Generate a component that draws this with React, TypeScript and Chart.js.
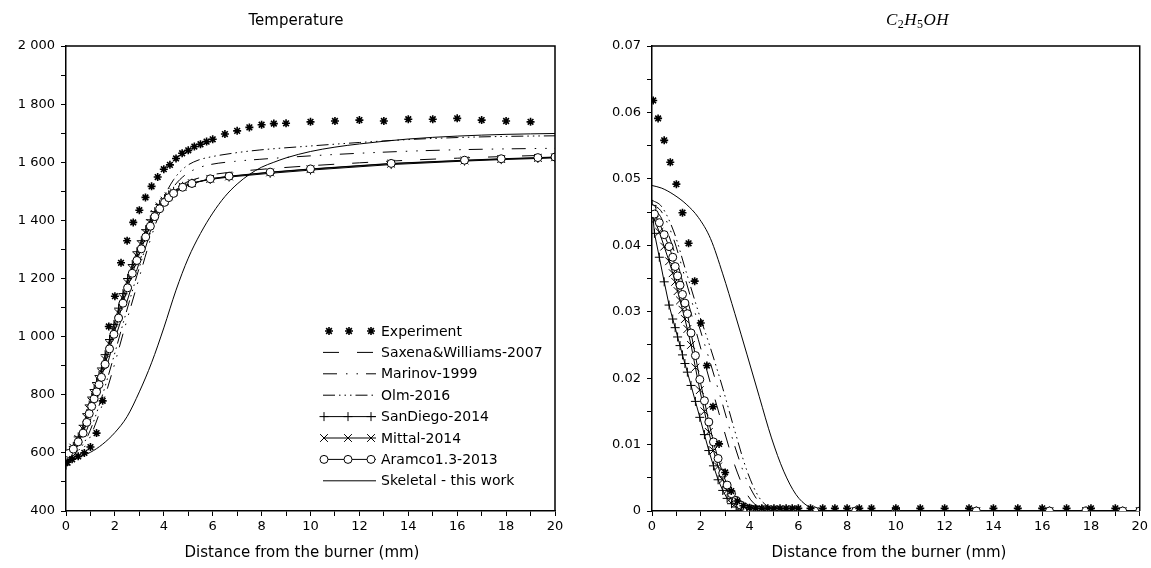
import React, { useEffect, useRef } from 'react';
import { Chart, registerables } from 'chart.js';
Chart.register(...registerables);

const FONT = "'DejaVu Sans', 'Liberation Sans', sans-serif";

// ---------- labels ----------
const seriesNames = [
  'Experiment',
  'Saxena&Williams-2007',
  'Marinov-1999',
  'Olm-2016',
  'SanDiego-2014',
  'Mittal-2014',
  'Aramco1.3-2013',
  'Skeletal - this work',
];
const distTickLabels = ['0', '2', '4', '6', '8', '10', '12', '14', '16', '18', '20'];
const tempTickLabels = ['400', '600', '800', '1 000', '1 200', '1 400', '1 600', '1 800', '2 000'];
const concTickLabels = ['0', '0.01', '0.02', '0.03', '0.04', '0.05', '0.06', '0.07'];

// ---------- experiment ----------
const expX = [0.05, 0.25, 0.5, 0.75, 1.0, 1.25, 1.5, 1.75, 2.0, 2.25, 2.5, 2.75, 3.0, 3.25, 3.5, 3.75, 4.0, 4.25, 4.5, 4.75, 5.0, 5.25, 5.5, 5.75, 6.0, 6.5, 7, 7.5, 8, 8.5, 9, 10, 11, 12, 13, 14, 15, 16, 17, 18, 19];
const expT = [568, 578, 588, 600, 620, 668, 779, 1035, 1139, 1254, 1330, 1393, 1435, 1479, 1517, 1549, 1576, 1591, 1613, 1631, 1641, 1654, 1662, 1671, 1679, 1697, 1708, 1720, 1729, 1733, 1734, 1739, 1742, 1745, 1742, 1748, 1748, 1751, 1745, 1742, 1739];
const expC = [0.0618, 0.0591, 0.0558, 0.0525, 0.0492, 0.0449, 0.0403, 0.0346, 0.0283, 0.0219, 0.0157, 0.0101, 0.0058, 0.0030, 0.0015, 0.0008, 0.0005, 0.0004, 0.0004, 0.0004, 0.0004, 0.0004, 0.0004, 0.0004, 0.0004, 0.0004, 0.0004, 0.0004, 0.0004, 0.0004, 0.0004, 0.0004, 0.0004, 0.0004, 0.0004, 0.0004, 0.0004, 0.0004, 0.0004, 0.0004, 0.0004];

// ---------- detailed mechanisms with markers (shared grid) ----------
const gridX = [0, 0.1, 0.3, 0.5, 0.7, 0.85, 0.95, 1.05, 1.15, 1.25, 1.35, 1.45, 1.6, 1.78, 1.96, 2.15, 2.33, 2.52, 2.71, 2.9, 3.08, 3.26, 3.45, 3.63, 3.83, 4.03, 4.2, 4.4, 4.77, 5.15, 5.9, 6.67, 8.35, 10.0, 13.3, 16.3, 17.8, 19.3, 20];
const aramcoT = [588, 598, 613, 638, 668, 705, 735, 760, 786, 810, 835, 860, 905, 958, 1008, 1064, 1115, 1168, 1218, 1262, 1302, 1343, 1380, 1413, 1440, 1462, 1478, 1493, 1514, 1527, 1543, 1552, 1566, 1577, 1596, 1607, 1612, 1616, 1618];
const sanDiegoT = [558, 585, 622, 655, 695, 735, 765, 792, 818, 842, 866, 892, 938, 990, 1042, 1098, 1148, 1200, 1248, 1292, 1330, 1368, 1402, 1430, 1455, 1474, 1488, 1500, 1517, 1528, 1541, 1549, 1562, 1573, 1592, 1604, 1609, 1613, 1615];
const mittalT = [570, 592, 618, 648, 682, 720, 750, 776, 802, 826, 850, 876, 921, 974, 1025, 1081, 1132, 1184, 1233, 1277, 1316, 1356, 1391, 1422, 1448, 1468, 1483, 1497, 1516, 1528, 1543, 1551, 1565, 1576, 1595, 1606, 1611, 1615, 1617];
const aramcoC = [0.0455, 0.0447, 0.0434, 0.0416, 0.0398, 0.0382, 0.0368, 0.0354, 0.0340, 0.0326, 0.0313, 0.0297, 0.0268, 0.0234, 0.0198, 0.0166, 0.0134, 0.0104, 0.0079, 0.0057, 0.0039, 0.0026, 0.0016, 0.0009, 0.0005, 0.0003, 0.0002, 0.0001, 0, 0, 0, 0, 0, 0, 0, 0, 0, 0, 0];
const sanDiegoC = [0.0460, 0.0418, 0.0382, 0.0345, 0.0310, 0.0289, 0.0276, 0.0262, 0.0249, 0.0235, 0.0222, 0.0209, 0.0189, 0.0165, 0.0141, 0.0115, 0.0091, 0.0068, 0.0047, 0.0031, 0.0019, 0.0011, 0.0006, 0.0003, 0.0001, 0, 0, 0, 0, 0, 0, 0, 0, 0, 0, 0, 0, 0, 0];
const mittalC = [0.0450, 0.0438, 0.0420, 0.0398, 0.0376, 0.0358, 0.0345, 0.0331, 0.0317, 0.0303, 0.0289, 0.0274, 0.0250, 0.0216, 0.0182, 0.0150, 0.0119, 0.0091, 0.0067, 0.0047, 0.0031, 0.0020, 0.0012, 0.0006, 0.0003, 0.0001, 0, 0, 0, 0, 0, 0, 0, 0, 0, 0, 0, 0, 0];

// ---------- line-only mechanisms ----------
const lineXT = [0, 0.4, 0.9, 1.4, 1.9, 2.4, 2.9, 3.4, 3.9, 4.4, 4.9, 5.4, 5.9, 6.9, 7.9, 10, 12, 14, 16, 18, 20];
const saxenaT = [575, 600, 690, 820, 965, 1095, 1230, 1352, 1440, 1500, 1530, 1545, 1556, 1567, 1575, 1588, 1598, 1607, 1614, 1620, 1625];
const marinovT = [575, 590, 640, 745, 880, 1030, 1175, 1320, 1440, 1515, 1558, 1580, 1592, 1603, 1610, 1622, 1631, 1638, 1643, 1646, 1648];
const olmT = [578, 598, 660, 775, 915, 1065, 1210, 1345, 1460, 1540, 1585, 1607, 1618, 1632, 1642, 1656, 1668, 1678, 1685, 1689, 1691];

const lineXC = [0, 0.4, 0.9, 1.4, 1.9, 2.4, 2.9, 3.4, 3.9, 4.4, 4.9, 5.4, 5.9, 10, 20];
const saxenaC = [0.0458, 0.0440, 0.0392, 0.0325, 0.0258, 0.0192, 0.0128, 0.0068, 0.0025, 0.0005, 0.0001, 0, 0, 0, 0];
const marinovC = [0.0462, 0.0450, 0.0408, 0.0345, 0.0282, 0.0222, 0.0160, 0.0097, 0.0045, 0.0013, 0.0002, 0, 0, 0, 0];
const olmC = [0.0468, 0.0458, 0.0420, 0.0360, 0.0300, 0.0245, 0.0185, 0.0120, 0.0060, 0.0020, 0.0004, 0.0001, 0, 0, 0];

const skelXT = [0, 0.5, 1, 1.5, 2, 2.5, 3, 3.5, 4, 4.5, 5, 5.5, 6, 6.5, 7, 7.5, 8, 8.5, 9, 10, 11, 12, 14, 16, 18, 20];
const skeletalT = [572, 585, 602, 630, 670, 725, 810, 910, 1030, 1160, 1270, 1355, 1425, 1482, 1525, 1558, 1583, 1600, 1615, 1637, 1652, 1663, 1680, 1690, 1696, 1699];
const skelXC = [0, 0.4, 0.9, 1.4, 1.9, 2.4, 2.9, 3.4, 3.9, 4.4, 4.9, 5.4, 5.9, 6.4, 6.9, 8, 10, 20];
const skeletalC = [0.0490, 0.0486, 0.0476, 0.0462, 0.0442, 0.0410, 0.0357, 0.0297, 0.0235, 0.0172, 0.0110, 0.0060, 0.0025, 0.0007, 0.0001, 0, 0, 0];

// ---------- styles ----------
type Kind = 'star' | 'cross' | 'crossRot' | 'circle' | 'none';
const STYLE: Record<string, { dash: number[]; marker: Kind; r: number; line: boolean; order: number; lw: number; mlw: number }> = {
  exp: { dash: [], marker: 'star', r: 4, line: false, order: 0, lw: 1, mlw: 1.6 },
  sax: { dash: [16, 18], marker: 'none', r: 0, line: true, order: 7, lw: 1, mlw: 1 },
  mar: { dash: [14, 9, 1.5, 9, 1.5, 8], marker: 'none', r: 0, line: true, order: 6, lw: 1, mlw: 1 },
  olm: { dash: [12, 4, 1.5, 4, 1.5, 4, 1.5, 4], marker: 'none', r: 0, line: true, order: 5, lw: 1, mlw: 1 },
  sd: { dash: [], marker: 'cross', r: 4.5, line: true, order: 3, lw: 1, mlw: 1 },
  mit: { dash: [], marker: 'crossRot', r: 5.5, line: true, order: 2, lw: 1, mlw: 1 },
  ara: { dash: [], marker: 'circle', r: 4, line: true, order: 1, lw: 1, mlw: 1 },
  skel: { dash: [], marker: 'none', r: 0, line: true, order: 4, lw: 1, mlw: 1 },
};
const KEYS = ['exp', 'sax', 'mar', 'olm', 'sd', 'mit', 'ara', 'skel'];

const pts = (xs: number[], ys: number[]) => xs.map((x, i) => ({ x, y: ys[i] }));

function makeDataset(key: string, label: string, data: { x: number; y: number }[]) {
  const s = STYLE[key];
  const smooth = key === 'sax' || key === 'mar' || key === 'olm' || key === 'skel';
  return {
    label,
    data,
    showLine: s.line,
    borderColor: '#000',
    borderWidth: s.lw,
    borderDash: s.dash,
    backgroundColor: '#fff',
    pointStyle: s.marker === 'none' ? 'circle' : s.marker,
    pointRadius: s.r,
    pointBorderWidth: s.mlw,
    pointBorderColor: '#000',
    pointBackgroundColor: s.marker === 'circle' ? '#fff' : '#000',
    pointHoverRadius: s.r,
    cubicInterpolationMode: smooth ? 'monotone' : 'default',
    tension: 0,
    fill: false,
    order: s.order,
  } as any;
}

function drawMarker(ctx: CanvasRenderingContext2D, kind: Kind, x: number, y: number, r: number, lw: number) {
  if (kind === 'none') return;
  ctx.save();
  ctx.setLineDash([]);
  ctx.lineWidth = lw;
  ctx.strokeStyle = '#000';
  ctx.beginPath();
  if (kind === 'circle') {
    ctx.arc(x, y, r, 0, Math.PI * 2);
    ctx.fillStyle = '#fff';
    ctx.fill();
    ctx.stroke();
    ctx.restore();
    return;
  }
  if (kind === 'cross' || kind === 'star') {
    ctx.moveTo(x - r, y); ctx.lineTo(x + r, y);
    ctx.moveTo(x, y - r); ctx.lineTo(x, y + r);
  }
  if (kind === 'crossRot' || kind === 'star') {
    const d = r * Math.SQRT1_2;
    ctx.moveTo(x - d, y - d); ctx.lineTo(x + d, y + d);
    ctx.moveTo(x - d, y + d); ctx.lineTo(x + d, y - d);
  }
  ctx.stroke();
  ctx.restore();
}

const framePlugin = {
  id: 'frame',
  afterDraw(chart: any) {
    const { ctx, chartArea: a } = chart;
    ctx.save();
    ctx.strokeStyle = '#000';
    ctx.lineWidth = 1.5;
    ctx.beginPath();
    ctx.moveTo(a.left, a.top);
    ctx.lineTo(a.right, a.top);
    ctx.lineTo(a.right, a.bottom);
    ctx.stroke();
    ctx.restore();
  },
};

function legendPlugin() {
  return {
    id: 'customLegend',
    afterDraw(chart: any) {
      const ctx: CanvasRenderingContext2D = chart.ctx;
      const x0 = 323, x1 = 376, tx = 381;
      const top = 331, step = 21.4;
      ctx.save();
      ctx.font = `14px ${FONT}`;
      ctx.fillStyle = '#000';
      ctx.textBaseline = 'middle';
      KEYS.forEach((k, i) => {
        const s = STYLE[k];
        const y = top + i * step;
        if (s.line) {
          ctx.save();
          ctx.strokeStyle = '#000';
          ctx.lineWidth = s.lw;
          ctx.setLineDash(s.dash);
          ctx.beginPath();
          ctx.moveTo(x0, y);
          ctx.lineTo(x1, y);
          ctx.stroke();
          ctx.restore();
        }
        const mx = k === 'exp' ? [329, 349, 371] : [324, 348, 371];
        if (s.marker !== 'none') mx.forEach((m) => drawMarker(ctx, s.marker, m, y, s.r, s.mlw));
        ctx.fillText(seriesNames[i], tx, y + 1);
      });
      ctx.restore();
    },
  };
}

function textPlugin(panel: 'T' | 'C') {
  return {
    id: 'texts',
    afterDraw(chart: any) {
      const ctx: CanvasRenderingContext2D = chart.ctx;
      ctx.save();
      ctx.fillStyle = '#000';
      ctx.textBaseline = 'alphabetic';
      ctx.font = `15px ${FONT}`;
      ctx.textAlign = 'center';
      ctx.fillText('Distance from the burner (mm)', panel === 'T' ? 302 : 889 - 575, 557);
      if (panel === 'T') {
        ctx.font = `15px ${FONT}`;
        ctx.fillText('Temperature', 296, 25);
      } else {
        const parts: [string, boolean][] = [['C', false], ['2', true], ['H', false], ['5', true], ['O', false], ['H', false]];
        const fMain = "italic 17px 'Liberation Serif', 'DejaVu Serif', serif";
        const fSub = "12px 'Liberation Serif', 'DejaVu Serif', serif";
        let w = 0;
        const ws = parts.map(([t, sub]) => {
          ctx.font = sub ? fSub : fMain;
          const m = ctx.measureText(t).width + 0.5;
          w += m;
          return m;
        });
        let x = 917.5 - 575 - w / 2;
        ctx.textAlign = 'left';
        parts.forEach(([t, sub], i) => {
          ctx.font = sub ? fSub : fMain;
          ctx.fillText(t, x, sub ? 28 : 25);
          x += ws[i];
        });
      }
      ctx.restore();
    },
  };
}

function buildConfig(panel: 'T' | 'C') {
  const isT = panel === 'T';
  const datasets = [
    makeDataset('exp', seriesNames[0], pts(expX, isT ? expT : expC)),
    makeDataset('sax', seriesNames[1], isT ? pts(lineXT, saxenaT) : pts(lineXC, saxenaC)),
    makeDataset('mar', seriesNames[2], isT ? pts(lineXT, marinovT) : pts(lineXC, marinovC)),
    makeDataset('olm', seriesNames[3], isT ? pts(lineXT, olmT) : pts(lineXC, olmC)),
    makeDataset('sd', seriesNames[4], pts(gridX, isT ? sanDiegoT : sanDiegoC)),
    makeDataset('mit', seriesNames[5], pts(gridX, isT ? mittalT : mittalC)),
    makeDataset('ara', seriesNames[6], pts(gridX, isT ? aramcoT : aramcoC)),
    makeDataset('skel', seriesNames[7], isT ? pts(skelXT, skeletalT) : pts(skelXC, skeletalC)),
  ];
  const tickFont = { family: FONT, size: 13 };
  const plugins: any[] = [framePlugin, textPlugin(panel)];
  if (isT) plugins.push(legendPlugin());
  return {
    type: 'scatter',
    data: { datasets },
    plugins,
    options: {
      responsive: false,
      animation: false,
      devicePixelRatio: 1,
      layout: { padding: { left: 0, right: isT ? 20 : 9, top: 46, bottom: 0 } },
      plugins: { legend: { display: false }, tooltip: { enabled: false }, title: { display: false } },
      events: [],
      scales: {
        x: {
          type: 'linear',
          min: 0,
          max: 20,
          afterFit: (s: any) => { s.height = 57; },
          ticks: {
            stepSize: 1,
            autoSkip: false,
            maxRotation: 0,
            padding: 3,
            color: '#000',
            font: tickFont,
            callback: (v: any) => {
              const n = Math.round(Number(v));
              return n % 2 === 0 ? distTickLabels[n / 2] : '';
            },
          },
          grid: { drawOnChartArea: false, drawTicks: true, tickLength: 5, color: '#000', lineWidth: 1 },
          border: { display: true, color: '#000', width: 1.5 },
        },
        y: {
          type: 'linear',
          min: isT ? 400 : 0,
          max: isT ? 2000 : 0.07,
          afterFit: (s: any) => { s.width = isT ? 66 : 77; },
          ticks: {
            stepSize: isT ? 100 : 0.005,
            autoSkip: false,
            padding: 6,
            color: '#000',
            font: tickFont,
            callback: (v: any) => {
              const n = Number(v);
              if (isT) {
                const k = Math.round(n);
                return k % 200 === 0 ? tempTickLabels[(k - 400) / 200] : '';
              }
              const idx = Math.round(n / 0.005);
              return idx % 2 === 0 ? concTickLabels[idx / 2] : '';
            },
          },
          grid: { drawOnChartArea: false, drawTicks: true, tickLength: 5, color: '#000', lineWidth: 1 },
          border: { display: true, color: '#000', width: 1.5 },
        },
      },
    },
  } as any;
}

export default function App() {
  const leftRef = useRef<HTMLCanvasElement>(null);
  const rightRef = useRef<HTMLCanvasElement>(null);
  useEffect(() => {
    const c1 = new Chart(leftRef.current as HTMLCanvasElement, buildConfig('T'));
    const c2 = new Chart(rightRef.current as HTMLCanvasElement, buildConfig('C'));
    return () => {
      c1.destroy();
      c2.destroy();
    };
  }, []);
  return (
    <div style={{ position: 'absolute', left: 0, top: 0, width: 1151, height: 568, background: '#fff' }}>
      <canvas ref={leftRef} width={575} height={568} style={{ position: 'absolute', left: 0, top: 0, width: 575, height: 568 }} />
      <canvas ref={rightRef} width={576} height={568} style={{ position: 'absolute', left: 575, top: 0, width: 576, height: 568 }} />
    </div>
  );
}
